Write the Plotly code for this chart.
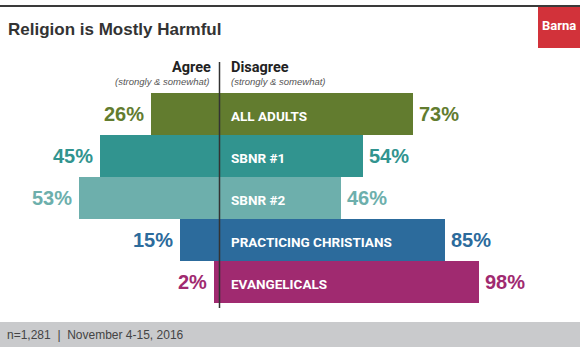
import plotly.graph_objects as go

# ---------------- data ----------------
categories = ["ALL ADULTS", "SBNR #1", "SBNR #2", "PRACTICING CHRISTIANS", "EVANGELICALS"]
agree = [26, 45, 53, 15, 2]
disagree = [73, 54, 46, 85, 98]
colors = ["#627c2f", "#31948f", "#6dafac", "#2c6b9c", "#a02a70"]

title = "Religion is Mostly Harmful"
footer = "n=1,281  |  November 4-15, 2016"

W, H = 580, 347
# axis geometry (figure is the full plot area)
x_range = [-219.5 / 2.65, (W - 219.5) / 2.65]
bar_px = 42.0
first_center_px = 114.0
y_range = [(H - first_center_px) / bar_px, -first_center_px / bar_px]  # reversed


def py(p):  # pixel (from top) -> paper y
    return 1 - p / H


def px(p):  # pixel (from left) -> paper x
    return p / W


x0_paper = (0 - x_range[0]) / (x_range[1] - x_range[0])

ypos = list(range(len(categories)))

fig = go.Figure()
fig.add_trace(go.Bar(y=ypos, x=[-a for a in agree], base=0, orientation="h",
                     marker=dict(color=colors, line=dict(width=0)), width=1.0,
                     hoverinfo="skip", showlegend=False))
fig.add_trace(go.Bar(y=ypos, x=disagree, base=0, orientation="h",
                     marker=dict(color=colors, line=dict(width=0)), width=1.0,
                     hoverinfo="skip", showlegend=False))

ann = []
pct_font = "Liberation Sans, Arial, sans-serif"
cond = "Roboto, Liberation Sans, sans-serif"
for i, cat in enumerate(categories):
    ann.append(dict(x=-agree[i], y=i, xref="x", yref="y", text=f"<b>{agree[i]}%</b>",
                    xanchor="right", yanchor="middle", xshift=-5, showarrow=False,
                    font=dict(family=pct_font, size=20, color=colors[i])))
    ann.append(dict(x=disagree[i], y=i, xref="x", yref="y", text=f"<b>{disagree[i]}%</b>",
                    xanchor="left", yanchor="middle", xshift=4, showarrow=False,
                    font=dict(family=pct_font, size=20, color=colors[i])))
    ann.append(dict(x=0, y=i, xref="x", yref="y", text=f"<b>{cat}</b>",
                    xanchor="left", yanchor="middle", xshift=9, yshift=-2, showarrow=False,
                    font=dict(family=cond, size=13.5, color="white")))

# column headers
ann += [
    dict(x=0, y=py(67), xref="x", yref="paper", text="<b>Agree</b>", xanchor="right",
         yanchor="middle", xshift=-7, showarrow=False,
         font=dict(family=cond, size=14.5, color="#222222")),
    dict(x=0, y=py(81), xref="x", yref="paper", text="<i>(strongly &amp; somewhat)</i>",
         xanchor="right", yanchor="middle", xshift=-8, showarrow=False,
         font=dict(family="Liberation Sans, Arial, sans-serif", size=9.5, color="#555555")),
    dict(x=0, y=py(67), xref="x", yref="paper", text="<b>Disagree</b>", xanchor="left",
         yanchor="middle", xshift=9, showarrow=False,
         font=dict(family=cond, size=14.5, color="#222222")),
    dict(x=0, y=py(81), xref="x", yref="paper", text="<i>(strongly &amp; somewhat)</i>",
         xanchor="left", yanchor="middle", xshift=9, showarrow=False,
         font=dict(family="Liberation Sans, Arial, sans-serif", size=9.5, color="#555555")),
    # title
    dict(x=px(6), y=py(29), xref="paper", yref="paper", text=f"<b>{title}</b>",
         xanchor="left", yanchor="middle", showarrow=False,
         font=dict(family="Liberation Sans, Arial, sans-serif", size=17, color="#333333")),
    # logo
    dict(x=px(559), y=py(26), xref="paper", yref="paper", text="<b>Barna</b>",
         xanchor="center", yanchor="middle", showarrow=False,
         font=dict(family=cond, size=13, color="white")),
    # footer
    dict(x=px(5), y=py(335), xref="paper", yref="paper", text=footer,
         xanchor="left", yanchor="middle", showarrow=False,
         font=dict(family="Liberation Sans, Arial, sans-serif", size=12, color="#444444")),
]

shapes = [
    # top rule
    dict(type="rect", xref="paper", yref="paper", x0=0, x1=1, y0=py(7), y1=py(5),
         fillcolor="#3a3a3a", line=dict(width=0), layer="above"),
    # logo box
    dict(type="rect", xref="paper", yref="paper", x0=px(538), x1=1, y0=py(48), y1=py(7),
         fillcolor="#d2323a", line=dict(width=0), layer="above"),
    # footer band
    dict(type="rect", xref="paper", yref="paper", x0=0, x1=1, y0=0, y1=py(322),
         fillcolor="#c9cacc", line=dict(width=0), layer="below"),
    # center divider
    dict(type="line", xref="paper", yref="paper", x0=x0_paper, x1=x0_paper,
         y0=py(62), y1=py(308), line=dict(color="#333333", width=1.5), layer="above"),
]

fig.update_layout(
    width=W, height=H, margin=dict(l=0, r=0, t=0, b=0),
    paper_bgcolor="white", plot_bgcolor="white",
    barmode="overlay", bargap=0,
    xaxis=dict(range=x_range, visible=False, fixedrange=True),
    yaxis=dict(range=y_range, visible=False, fixedrange=True),
    annotations=ann, shapes=shapes, showlegend=False,
)

fig.write_html("out.html", config={"displayModeBar": False})
